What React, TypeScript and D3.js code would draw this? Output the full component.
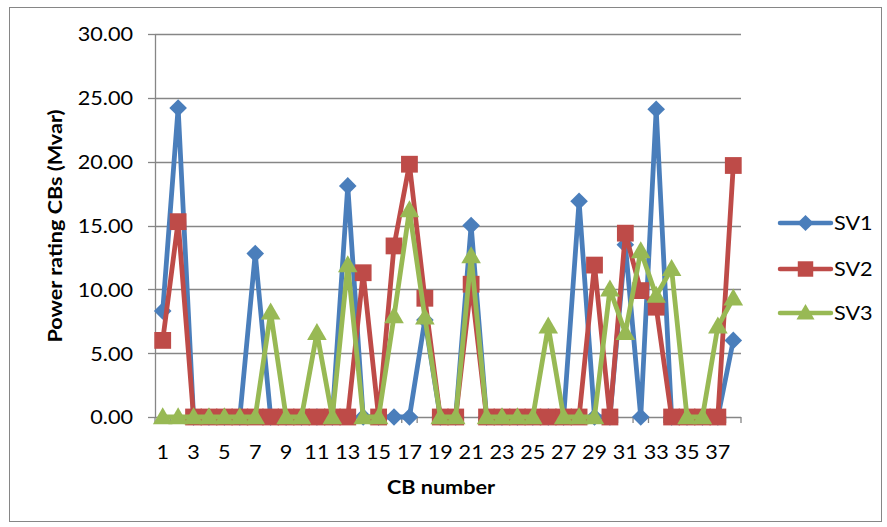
import React from "react";
import * as d3 from "d3";

// CB numbers 1..38
const categories = [
  1, 2, 3, 4, 5, 6, 7, 8, 9, 10, 11, 12, 13, 14, 15, 16, 17, 18, 19, 20,
  21, 22, 23, 24, 25, 26, 27, 28, 29, 30, 31, 32, 33, 34, 35, 36, 37, 38,
];

// Power rating of each CB (Mvar) per scenario
const sv1 = [
  8.3, 24.2, 0, 0, 0, 0, 12.8, 0, 0, 0, 0, 0, 18.1, 0, 0, 0, 0, 7.6, 0, 0,
  15.0, 0, 0, 0, 0, 0, 0, 16.9, 0, 0, 13.5, 0, 24.1, 0, 0, 0, 0, 6.0,
];
const sv2 = [
  6.0, 15.3, 0, 0, 0, 0, 0, 0, 0, 0, 0, 0, 0, 11.3, 0, 13.4, 19.8, 9.3, 0, 0,
  10.4, 0, 0, 0, 0, 0, 0, 0, 11.9, 0, 14.4, 9.9, 8.6, 0, 0, 0, 0, 19.7,
];
const sv3 = [
  0, 0, 0, 0, 0, 0, 0, 8.2, 0, 0, 6.6, 0, 11.9, 0, 0, 7.9, 16.2, 7.8, 0, 0,
  12.6, 0, 0, 0, 0, 7.1, 0, 0, 0, 10.0, 6.6, 13.0, 9.5, 11.6, 0, 0, 7.1, 9.3,
];

const seriesNames = ["SV1", "SV2", "SV3"];
const yTicks = [0, 5, 10, 15, 20, 25, 30];
const xTickLabels = categories.filter((c) => c % 2 === 1);

const W = 887;
const H = 527;
const plot = { left: 155, right: 741, top: 34, bottom: 417 };

const colors = ["#4A7EBB", "#BE4B48", "#98B954"];
const shapes = ["diamond", "square", "triangle"] as const;
const FONT = "Lato, 'DejaVu Sans', sans-serif";
const SX = 1.17; // horizontal stretch of the type

function markerPath(shape: string, cx: number, cy: number, s = 1): string {
  if (shape === "diamond") {
    const r = 8.8 * s;
    return `M${cx},${cy - r}L${cx + r},${cy}L${cx},${cy + r}L${cx - r},${cy}Z`;
  }
  if (shape === "square") {
    const r = 8.4 * s;
    return `M${cx - r},${cy - r}H${cx + r}V${cy + r}H${cx - r}Z`;
  }
  const hw = 9.8 * s;
  const h = 17 * s;
  return `M${cx},${cy - h * 0.58}L${cx + hw},${cy + h * 0.42}L${cx - hw},${cy + h * 0.42}Z`;
}

function Txt(props: {
  x: number;
  y: number;
  anchor?: "start" | "middle" | "end";
  size?: number;
  bold?: boolean;
  rotate?: number;
  children: React.ReactNode;
}) {
  const { x, y, anchor = "start", size = 18.5, bold = false, rotate = 0 } = props;
  return (
    <text
      transform={`translate(${x},${y}) rotate(${rotate}) scale(${SX},1)`}
      textAnchor={anchor}
      dominantBaseline="central"
      fontFamily={FONT}
      fontSize={size}
      fontWeight={bold ? 700 : 400}
      fill="#000"
    >
      {props.children}
    </text>
  );
}

export default function App() {
  const x = d3
    .scaleBand<number>()
    .domain(categories)
    .range([plot.left, plot.right]);
  const y = d3.scaleLinear().domain([0, 30]).range([plot.bottom, plot.top]);
  const cx = (c: number) => (x(c) as number) + x.bandwidth() / 2;

  const data = [sv1, sv2, sv3];
  const line = d3
    .line<number>()
    .x((_, i) => cx(categories[i]))
    .y((v) => y(v));

  const boundaries = d3.range(categories.length + 1).map(
    (i) => plot.left + i * x.step()
  );

  const legendY = [223, 269, 313];

  return (
    <svg
      width={W}
      height={H}
      style={{ position: "absolute", left: 0, top: 0, background: "#fff" }}
    >
      <rect x={0} y={0} width={W} height={H} fill="#fff" />
      <rect
        x={9.5}
        y={7.5}
        width={872}
        height={514}
        fill="none"
        stroke="#868686"
        strokeWidth={1}
      />

      {/* horizontal gridlines and y ticks */}
      {yTicks.map((t) => (
        <g key={t}>
          {t > 0 && (
            <line
              x1={plot.left}
              x2={plot.right}
              y1={Math.round(y(t)) + 0.5}
              y2={Math.round(y(t)) + 0.5}
              stroke="#868686"
              strokeWidth={1.3}
            />
          )}
          <line
            x1={plot.left - 7}
            x2={plot.left}
            y1={Math.round(y(t)) + 0.5}
            y2={Math.round(y(t)) + 0.5}
            stroke="#868686"
            strokeWidth={1.3}
          />
          <Txt x={133} y={y(t)} anchor="end">
            {d3.format(".2f")(t)}
          </Txt>
        </g>
      ))}

      {/* axes */}
      <line
        x1={plot.left + 0.5}
        x2={plot.left + 0.5}
        y1={plot.top}
        y2={plot.bottom}
        stroke="#868686"
        strokeWidth={1.3}
      />
      <line
        x1={plot.left}
        x2={plot.right}
        y1={plot.bottom + 0.5}
        y2={plot.bottom + 0.5}
        stroke="#868686"
        strokeWidth={1.3}
      />
      {boundaries.map((b, i) => (
        <line
          key={i}
          x1={b}
          x2={b}
          y1={plot.bottom}
          y2={plot.bottom + 6}
          stroke="#868686"
          strokeWidth={1.3}
        />
      ))}
      {xTickLabels.map((c) => (
        <Txt key={c} x={cx(c)} y={452} anchor="middle">
          {c}
        </Txt>
      ))}

      {/* series: line then markers, one series at a time */}
      {data.map((vals, si) => (
        <g key={si}>
          <path
            d={line(vals) as string}
            fill="none"
            stroke={colors[si]}
            strokeWidth={4.8}
            strokeLinejoin="round"
          />
          {vals.map((v, i) => (
            <path
              key={i}
              d={markerPath(shapes[si], cx(categories[i]), y(v))}
              fill={colors[si]}
            />
          ))}
        </g>
      ))}

      {/* legend */}
      {seriesNames.map((name, si) => (
        <g key={name}>
          <line
            x1={780}
            x2={831}
            y1={legendY[si]}
            y2={legendY[si]}
            stroke={colors[si]}
            strokeWidth={4.5}
            strokeLinecap="round"
          />
          <path
            d={markerPath(shapes[si], 805.5, legendY[si], 0.92)}
            fill={colors[si]}
          />
          <Txt x={834} y={legendY[si]}>
            {name}
          </Txt>
        </g>
      ))}

      {/* axis titles */}
      <Txt x={441} y={487} anchor="middle" bold>
        CB number
      </Txt>
      <Txt x={55} y={226} anchor="middle" bold rotate={-90}>
        Power rating CBs (Mvar)
      </Txt>
    </svg>
  );
}
